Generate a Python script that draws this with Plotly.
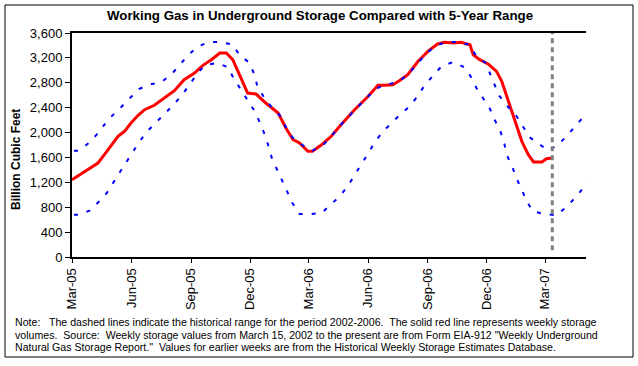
import plotly.graph_objects as go

# ---------------- data ----------------
storage_dates = [
    "2005-03-01", "2005-03-15", "2005-03-26", "2005-04-10", "2005-04-20", "2005-05-01",
    "2005-05-11", "2005-05-21", "2005-05-31", "2005-06-11", "2005-06-21", "2005-07-06",
    "2005-07-22", "2005-08-06", "2005-08-21", "2005-09-06", "2005-09-19", "2005-10-02",
    "2005-10-15", "2005-10-25", "2005-11-04", "2005-11-14", "2005-11-27", "2005-12-10",
    "2005-12-25", "2006-01-13", "2006-01-25", "2006-02-05", "2006-02-15", "2006-02-28",
    "2006-03-07", "2006-03-20", "2006-04-05", "2006-04-20", "2006-05-11", "2006-06-01",
    "2006-06-16", "2006-06-26", "2006-07-09", "2006-07-19", "2006-08-01", "2006-08-09",
    "2006-08-17", "2006-09-01", "2006-09-16", "2006-09-27", "2006-10-10", "2006-10-22",
    "2006-11-05", "2006-11-10", "2006-11-20", "2006-12-03", "2006-12-16", "2006-12-24",
    "2007-01-03", "2007-01-13", "2007-01-24", "2007-02-03", "2007-02-11", "2007-02-24",
    "2007-03-03", "2007-03-12",
]
storage_values = [
    1242, 1339, 1414, 1510, 1645, 1805,
    1940, 2020, 2153, 2277, 2367, 2438,
    2555, 2673, 2850, 2957, 3080, 3171,
    3278, 3278, 3171, 2930, 2635, 2619,
    2475, 2314, 2073, 1885, 1832, 1698,
    1698, 1795, 1940, 2126, 2367, 2582,
    2759, 2759, 2769, 2833, 2930, 3037,
    3145, 3305, 3423, 3450, 3439, 3450,
    3412, 3251, 3171, 3102, 2984, 2823,
    2502, 2181, 1859, 1644, 1527, 1527,
    1580, 1591,
]

upper_dates = [
    "2005-03-04", "2005-03-11", "2005-03-25", "2005-04-08", "2005-04-20", "2005-05-02",
    "2005-05-16", "2005-05-30", "2005-06-12", "2005-06-28", "2005-07-17", "2005-08-02",
    "2005-08-16", "2005-08-27", "2005-09-10", "2005-09-28", "2005-10-16", "2005-11-04",
    "2005-11-14", "2005-11-30", "2005-12-07", "2005-12-12", "2005-12-22", "2006-01-03",
    "2006-01-17", "2006-01-25", "2006-02-04", "2006-02-20", "2006-03-07", "2006-03-23",
    "2006-04-05", "2006-04-20", "2006-05-16", "2006-06-12", "2006-06-28", "2006-07-17",
    "2006-08-02", "2006-08-16", "2006-08-27", "2006-09-10", "2006-09-28", "2006-10-16",
    "2006-11-04", "2006-11-14", "2006-11-29", "2006-12-06", "2006-12-20", "2007-01-02",
    "2007-01-15", "2007-01-26", "2007-02-05", "2007-02-21", "2007-03-06", "2007-03-21",
    "2007-04-04", "2007-04-17", "2007-04-30", "2007-05-10",
]
upper_values = [
    1709, 1709, 1816, 1966, 2126, 2271,
    2411, 2555, 2700, 2769, 2812, 2941,
    3106, 3241, 3375, 3455, 3455, 3412,
    3251, 3118, 2941, 2743, 2571, 2406,
    2261, 2084, 1924, 1795, 1709, 1795,
    1940, 2126, 2411, 2700, 2769, 2812,
    2941, 3106, 3241, 3375, 3455, 3455,
    3412, 3241, 3118, 2946, 2592, 2422,
    2277, 2094, 1924, 1805, 1709, 1805,
    1950, 2110, 2261, 2380,
]

lower_dates = [
    "2005-03-04", "2005-03-11", "2005-03-28", "2005-04-11", "2005-04-24", "2005-05-03",
    "2005-05-14", "2005-05-24", "2005-06-03", "2005-06-14", "2005-06-26", "2005-07-09",
    "2005-07-23", "2005-08-04", "2005-08-19", "2005-08-30", "2005-09-11", "2005-09-22",
    "2005-10-11", "2005-10-28", "2005-11-05", "2005-11-16", "2005-11-27", "2005-12-07",
    "2005-12-15", "2005-12-23", "2005-12-29", "2006-01-03", "2006-01-11", "2006-01-19",
    "2006-01-27", "2006-02-04", "2006-02-15", "2006-03-05", "2006-03-21", "2006-04-05",
    "2006-04-19", "2006-05-02", "2006-05-11", "2006-05-22", "2006-05-31", "2006-06-11",
    "2006-06-23", "2006-07-06", "2006-07-20", "2006-08-04", "2006-08-16", "2006-08-27",
    "2006-09-09", "2006-09-22", "2006-10-10", "2006-10-27", "2006-11-06", "2006-11-15",
    "2006-11-25", "2006-12-06", "2006-12-13", "2006-12-22", "2006-12-28", "2007-01-01",
    "2007-01-09", "2007-01-16", "2007-01-24", "2007-01-31", "2007-02-10", "2007-02-28",
    "2007-03-18", "2007-04-01", "2007-04-15", "2007-04-28", "2007-05-05",
]
lower_values = [
    680, 680, 744, 884, 1033, 1189,
    1366, 1527, 1698, 1869, 2030, 2169,
    2319, 2438, 2619, 2785, 2957, 3080,
    3118, 3049, 2877, 2700, 2528, 2357,
    2181, 1977, 1789, 1602, 1414, 1226,
    1045, 868, 691, 691, 707, 852,
    985, 1162, 1323, 1495, 1655, 1843,
    2009, 2142, 2287, 2422, 2582, 2759,
    2920, 3065, 3134, 3049, 2904, 2716,
    2555, 2378, 2207, 2020, 1821, 1634,
    1457, 1258, 1082, 905, 734, 691,
    670, 787, 937, 1098, 1226,
]

current_week = ["2007-03-12", "2007-03-12"]
current_week_span = [110, 3600]

tick_dates = ["2005-03-01", "2005-06-01", "2005-09-01", "2005-12-01", "2006-03-01",
              "2006-06-01", "2006-09-01", "2006-12-01", "2007-03-01"]
tick_labels = ["Mar-05", "Jun-05", "Sep-05", "Dec-05", "Mar-06",
               "Jun-06", "Sep-06", "Dec-06", "Mar-07"]
y_ticks = [0, 400, 800, 1200, 1600, 2000, 2400, 2800, 3200, 3600]

title_text = "Working Gas in Underground Storage Compared with 5-Year Range"
y_title = "Billion Cubic Feet"
note_lines = [
    "Note:\u00a0\u00a0 The dashed lines indicate the historical range for the period 2002-2006.\u00a0 The solid red line represents weekly storage",
    "volumes.\u00a0 Source:\u00a0 Weekly storage values from March 15, 2002 to the present are from Form EIA-912 \"Weekly Underground",
    "Natural Gas Storage Report.\"\u00a0 Values for earlier weeks are from the Historical Weekly Storage Estimates Database.",
]

# ---------------- figure ----------------
FONT = "Liberation Sans, Arial, sans-serif"
W, H = 638, 366
L, R, T, B = 72, 586, 33, 257  # plot area pixels


def px(x):
    return (x - L) / (R - L)


def py(y):
    return (B - y) / (B - T)


fig = go.Figure()
fig.add_trace(go.Scatter(x=storage_dates, y=storage_values, mode="lines",
                         line=dict(color="#FF0000", width=3), hoverinfo="skip"))
fig.add_trace(go.Scatter(x=upper_dates, y=upper_values, mode="lines",
                         line=dict(color="#0000FF", width=2, dash="4px,9px"), hoverinfo="skip"))
fig.add_trace(go.Scatter(x=lower_dates, y=lower_values, mode="lines",
                         line=dict(color="#0000FF", width=2, dash="4px,9px"), hoverinfo="skip"))
fig.add_trace(go.Scatter(x=current_week, y=current_week_span, mode="lines",
                         line=dict(color="#808080", width=3, dash="5px,4px"), hoverinfo="skip"))

axis_font = dict(family=FONT, size=13, color="black")
fig.update_layout(
    width=W, height=H,
    margin=dict(l=L, r=W - R, t=T, b=H - B, pad=0),
    paper_bgcolor="white", plot_bgcolor="white",
    showlegend=False,
    xaxis=dict(type="date", range=["2005-03-01", "2007-05-03"],
               tickvals=tick_dates, ticktext=tick_labels, tickangle=-90,
               ticks="outside", ticklen=4, tickwidth=1, tickcolor="black",
               showline=True, linewidth=2, linecolor="black", mirror=True,
               showgrid=False, zeroline=False, tickfont=axis_font),
    yaxis=dict(range=[0, 3600], tickvals=y_ticks, tickformat=",",
               ticks="outside", ticklen=5, tickwidth=1, tickcolor="black",
               showline=True, linewidth=2, linecolor="black",
               showgrid=False, zeroline=False, tickfont=axis_font),
    yaxis2=dict(range=[0, 3600], tickvals=y_ticks, tickformat=",", overlaying="y",
                side="right", ticks="outside", ticklen=5, tickwidth=1, tickcolor="black",
                showline=True, linewidth=2, linecolor="black",
                showgrid=False, zeroline=False, tickfont=axis_font),
)

annotations = [
    dict(text="<b>%s</b>" % title_text, x=px(320), y=py(16), xref="paper", yref="paper",
         xanchor="center", yanchor="middle", showarrow=False,
         font=dict(family=FONT, size=13.3, color="black")),
    dict(text="<b>%s</b>" % y_title, x=px(16), y=py(160), xref="paper", yref="paper",
         xanchor="center", yanchor="middle", textangle=-90, showarrow=False,
         font=dict(family=FONT, size=12, color="black")),
]
for i, (line, ypix) in enumerate(zip(note_lines, [322, 334.5, 347])):
    annotations.append(dict(text=line, x=px(12.5), y=py(ypix), xref="paper", yref="paper",
                            xanchor="left", yanchor="middle", showarrow=False,
                            font=dict(family=FONT, size=10.6, color="black")))
fig.update_layout(annotations=annotations)

fig.add_shape(type="rect", xref="paper", yref="paper",
              x0=px(5), x1=px(633), y0=py(357), y1=py(5),
              line=dict(color="black", width=1), fillcolor="rgba(0,0,0,0)", layer="above")

fig.write_html("out.html", config={"displayModeBar": False, "staticPlot": True},
               post_script="document.body.style.margin='0';document.body.style.overflow='hidden';")
